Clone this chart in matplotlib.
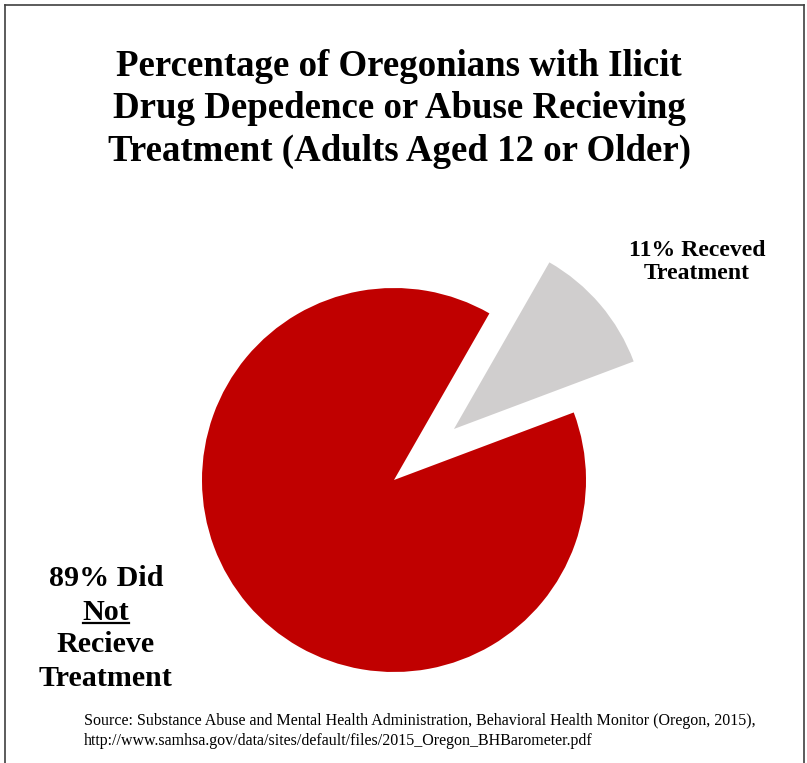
import matplotlib.pyplot as plt
from matplotlib.lines import Line2D

plt.rcParams['font.family'] = ['Liberation Serif', 'DejaVu Serif']

categories = ['Receved Treatment', 'Did Not Recieve Treatment']
shares = [11, 89]
colors = ['#D0CECE', '#C00000']
title = ('Percentage of Oregonians with Ilicit\n'
         'Drug Depedence or Abuse Recieving\n'
         'Treatment (Adults Aged 12 or Older)')
source = ('Source: Substance Abuse and Mental Health Administration, Behavioral Health Monitor (Oregon, 2015),\n'
          'http://www.samhsa.gov/data/sites/default/files/2015_Oregon_BHBarometer.pdf')

W, H = 807, 763
fig = plt.figure(figsize=(W / 100, H / 100), dpi=100)

# pie axes: centre at (394, 480) px from top-left, radius 192 px
cx, cy, r = 394, 480, 192
lim = 1.6
side = 2 * r * lim
ax = fig.add_axes([(cx - side / 2) / W, (H - cy - side / 2) / H, side / W, side / H])
ax.pie(shares, colors=colors, explode=[0.41, 0], startangle=20.6,
       counterclock=True, radius=1, wedgeprops=dict(linewidth=0))
ax.set_xlim(-lim, lim)
ax.set_ylim(-lim, lim)
ax.set_aspect('equal')
ax.axis('off')

fig.text(399 / W, 1 - 109 / H, title, ha='center', va='center',
         fontsize=26.6, fontweight='bold', linespacing=1.27)

fig.text(697 / W, 1 - 262 / H, f'{shares[0]}% Receved\nTreatment', ha='center',
         va='center', fontsize=17.1, fontweight='bold', linespacing=1.12)

lines = [f'{shares[1]}% Did', 'Not', 'Recieve', 'Treatment']
ys = [578, 612, 645, 678]
for txt, y in zip(lines, ys):
    t = fig.text(106 / W, 1 - y / H, txt, ha='center', va='center',
                 fontsize=21.6, fontweight='bold')
    if txt == 'Not':
        fig.canvas.draw()
        bb = t.get_window_extent().transformed(fig.transFigure.inverted())
        fig.add_artist(Line2D([bb.x0, bb.x1], [bb.y0 + 3 / H, bb.y0 + 3 / H],
                              transform=fig.transFigure, color='black', lw=1.6))

fig.text(84 / W, 1 - 731 / H, source, ha='left', va='center', fontsize=11.5,
         linespacing=1.35)

# frame around the chart area (bottom edge runs off the picture)
fx0, fx1, fy = 4.5 / W, 804 / W, 1 - 4.5 / H
for xs, ysf in [([fx0, fx1], [fy, fy]), ([fx0, fx0], [0, fy]), ([fx1, fx1], [0, fy])]:
    fig.add_artist(Line2D(xs, ysf, transform=fig.transFigure, color='#404040', lw=1.2))

fig.savefig('out.png', dpi=100)
